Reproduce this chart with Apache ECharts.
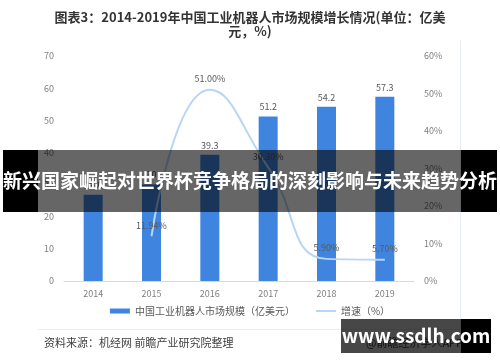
<!DOCTYPE html>
<html><head><meta charset="utf-8">
<script src="https://cdn.jsdelivr.net/npm/echarts@6/dist/echarts.min.js"></script>
<style>html,body{margin:0;padding:0;background:#fff}#c{width:500px;height:362px}</style>
</head><body><div id="c"></div>
<script>
const years = ['2014','2015','2016','2017','2018','2019'];
const marketSize = [26.8, 30, 39.3, 51.2, 54.2, 57.3];
const growth = [null, 11.94, 51.00, 30.30, 5.90, 5.70];
const leftTicks = [0,10,20,30,40,50,60,70];
const rightTicks = ['0%','10%','20%','30%','40%','50%','60%'];
const titleText = '图表3：2014-2019年中国工业机器人市场规模增长情况(单位：亿美\n元，%)';
const barName = '中国工业机器人市场规模（亿美元）';
const lineName = '增速（%）';
const sourceText = '资料来源：机经网 前瞻产业研究院整理';
const appText = '@前瞻经济学人APP';
const bannerText = '新兴国家崛起对世界杯竞争格局的深刻影响与未来趋势分析';
const siteText = 'www.ssdlh.com';

const FONT = '"Noto Sans CJK SC", "Noto Sans", sans-serif';
const chart = echarts.init(document.getElementById('c'), null, {renderer: 'canvas'});
chart.setOption({
  animation: false,
  textStyle: {fontFamily: FONT},
  title: {
    text: titleText, left: 'center', top: 5,
    textStyle: {fontSize: 13, fontWeight: 'bold', color: '#333', lineHeight: 14, fontFamily: FONT}
  },
  grid: {left: 64, right: 86, top: 56, bottom: 81},
  legend: {
    bottom: 41, left: 'center', itemWidth: 20, itemHeight: 5, itemGap: 20,
    textStyle: {fontSize: 10, color: '#595959', fontFamily: FONT},
    data: [{name: barName, icon: 'rect'}, {name: lineName}]
  },
  xAxis: {
    type: 'category', data: years,
    axisLine: {lineStyle: {color: '#d9d9d9'}},
    axisTick: {show: false},
    axisLabel: {fontSize: 9, color: '#7f7f7f', margin: 8}
  },
  yAxis: [{
    type: 'value', min: 0, max: 70, interval: 10,
    splitLine: {show: false}, axisLine: {show: false}, axisTick: {show: false},
    axisLabel: {fontSize: 9, color: '#7f7f7f', margin: 10,
      formatter: v => leftTicks.includes(v) ? String(v) : ''}
  }, {
    type: 'value', min: 0, max: 60, interval: 10,
    splitLine: {show: false}, axisLine: {show: false}, axisTick: {show: false},
    axisLabel: {fontSize: 9, color: '#7f7f7f', margin: 10,
      formatter: v => rightTicks[Math.round(v/10)] || ''}
  }],
  series: [{
    name: barName, type: 'bar', data: marketSize, barWidth: 19,
    itemStyle: {color: '#3F85E0'},
    label: {show: true, position: 'top', fontSize: 9, color: '#595959', distance: 5}
  }, {
    name: lineName, type: 'line', yAxisIndex: 1, data: growth, smooth: true,
    showSymbol: true, symbol: 'circle', symbolSize: 1, connectNulls: false,
    lineStyle: {color: '#B7D5F5', width: 2}, itemStyle: {color: 'rgba(0,0,0,0)'},
    label: {show: true, position: 'top', fontSize: 9, color: '#595959', distance: 6,
      formatter: p => p.value == null ? '' : p.value.toFixed(2) + '%'}
  }],
  graphic: [
    {type: 'line', shape: {x1: 38, y1: 329.5, x2: 460, y2: 329.5}, style: {stroke: '#e8edf3', lineWidth: 1}, z: 1},
    {type: 'line', shape: {x1: 460.5, y1: 40, x2: 460.5, y2: 329}, style: {stroke: '#e8edf3', lineWidth: 1}, z: 1},
    {type: 'text', left: 44, top: 337, style: {text: sourceText, fill: '#404040', font: '11px ' + FONT}, z: 1},
    {type: 'text', left: 366, top: 337, style: {text: appText, fill: '#404040', font: '11px ' + FONT}, z: 1},
    {type: 'rect', shape: {x: 3, y: 150, width: 35, height: 62}, style: {fill: '#000'}, z: 100},
    {type: 'rect', shape: {x: 461, y: 150, width: 36, height: 62}, style: {fill: '#000'}, z: 100},
    {type: 'rect', shape: {x: 38, y: 150, width: 423, height: 62}, style: {fill: 'rgba(0,0,0,0.6)'}, z: 100},
    {type: 'text', x: 250, y: 181, style: {text: bannerText, fill: '#fff', font: 'bold 19px ' + FONT, textAlign: 'center', textVerticalAlign: 'middle'}, z: 101},
    {type: 'rect', shape: {x: 341, y: 319, width: 120, height: 34}, style: {fill: 'rgba(0,0,0,0.72)'}, z: 100},
    {type: 'rect', shape: {x: 461, y: 319, width: 30, height: 34}, style: {fill: '#000'}, z: 100},
    {type: 'text', x: 416, y: 336, style: {text: siteText, fill: '#fff', font: 'bold 19px ' + FONT, textAlign: 'center', textVerticalAlign: 'middle'}, z: 101}
  ]
});
</script></body></html>
